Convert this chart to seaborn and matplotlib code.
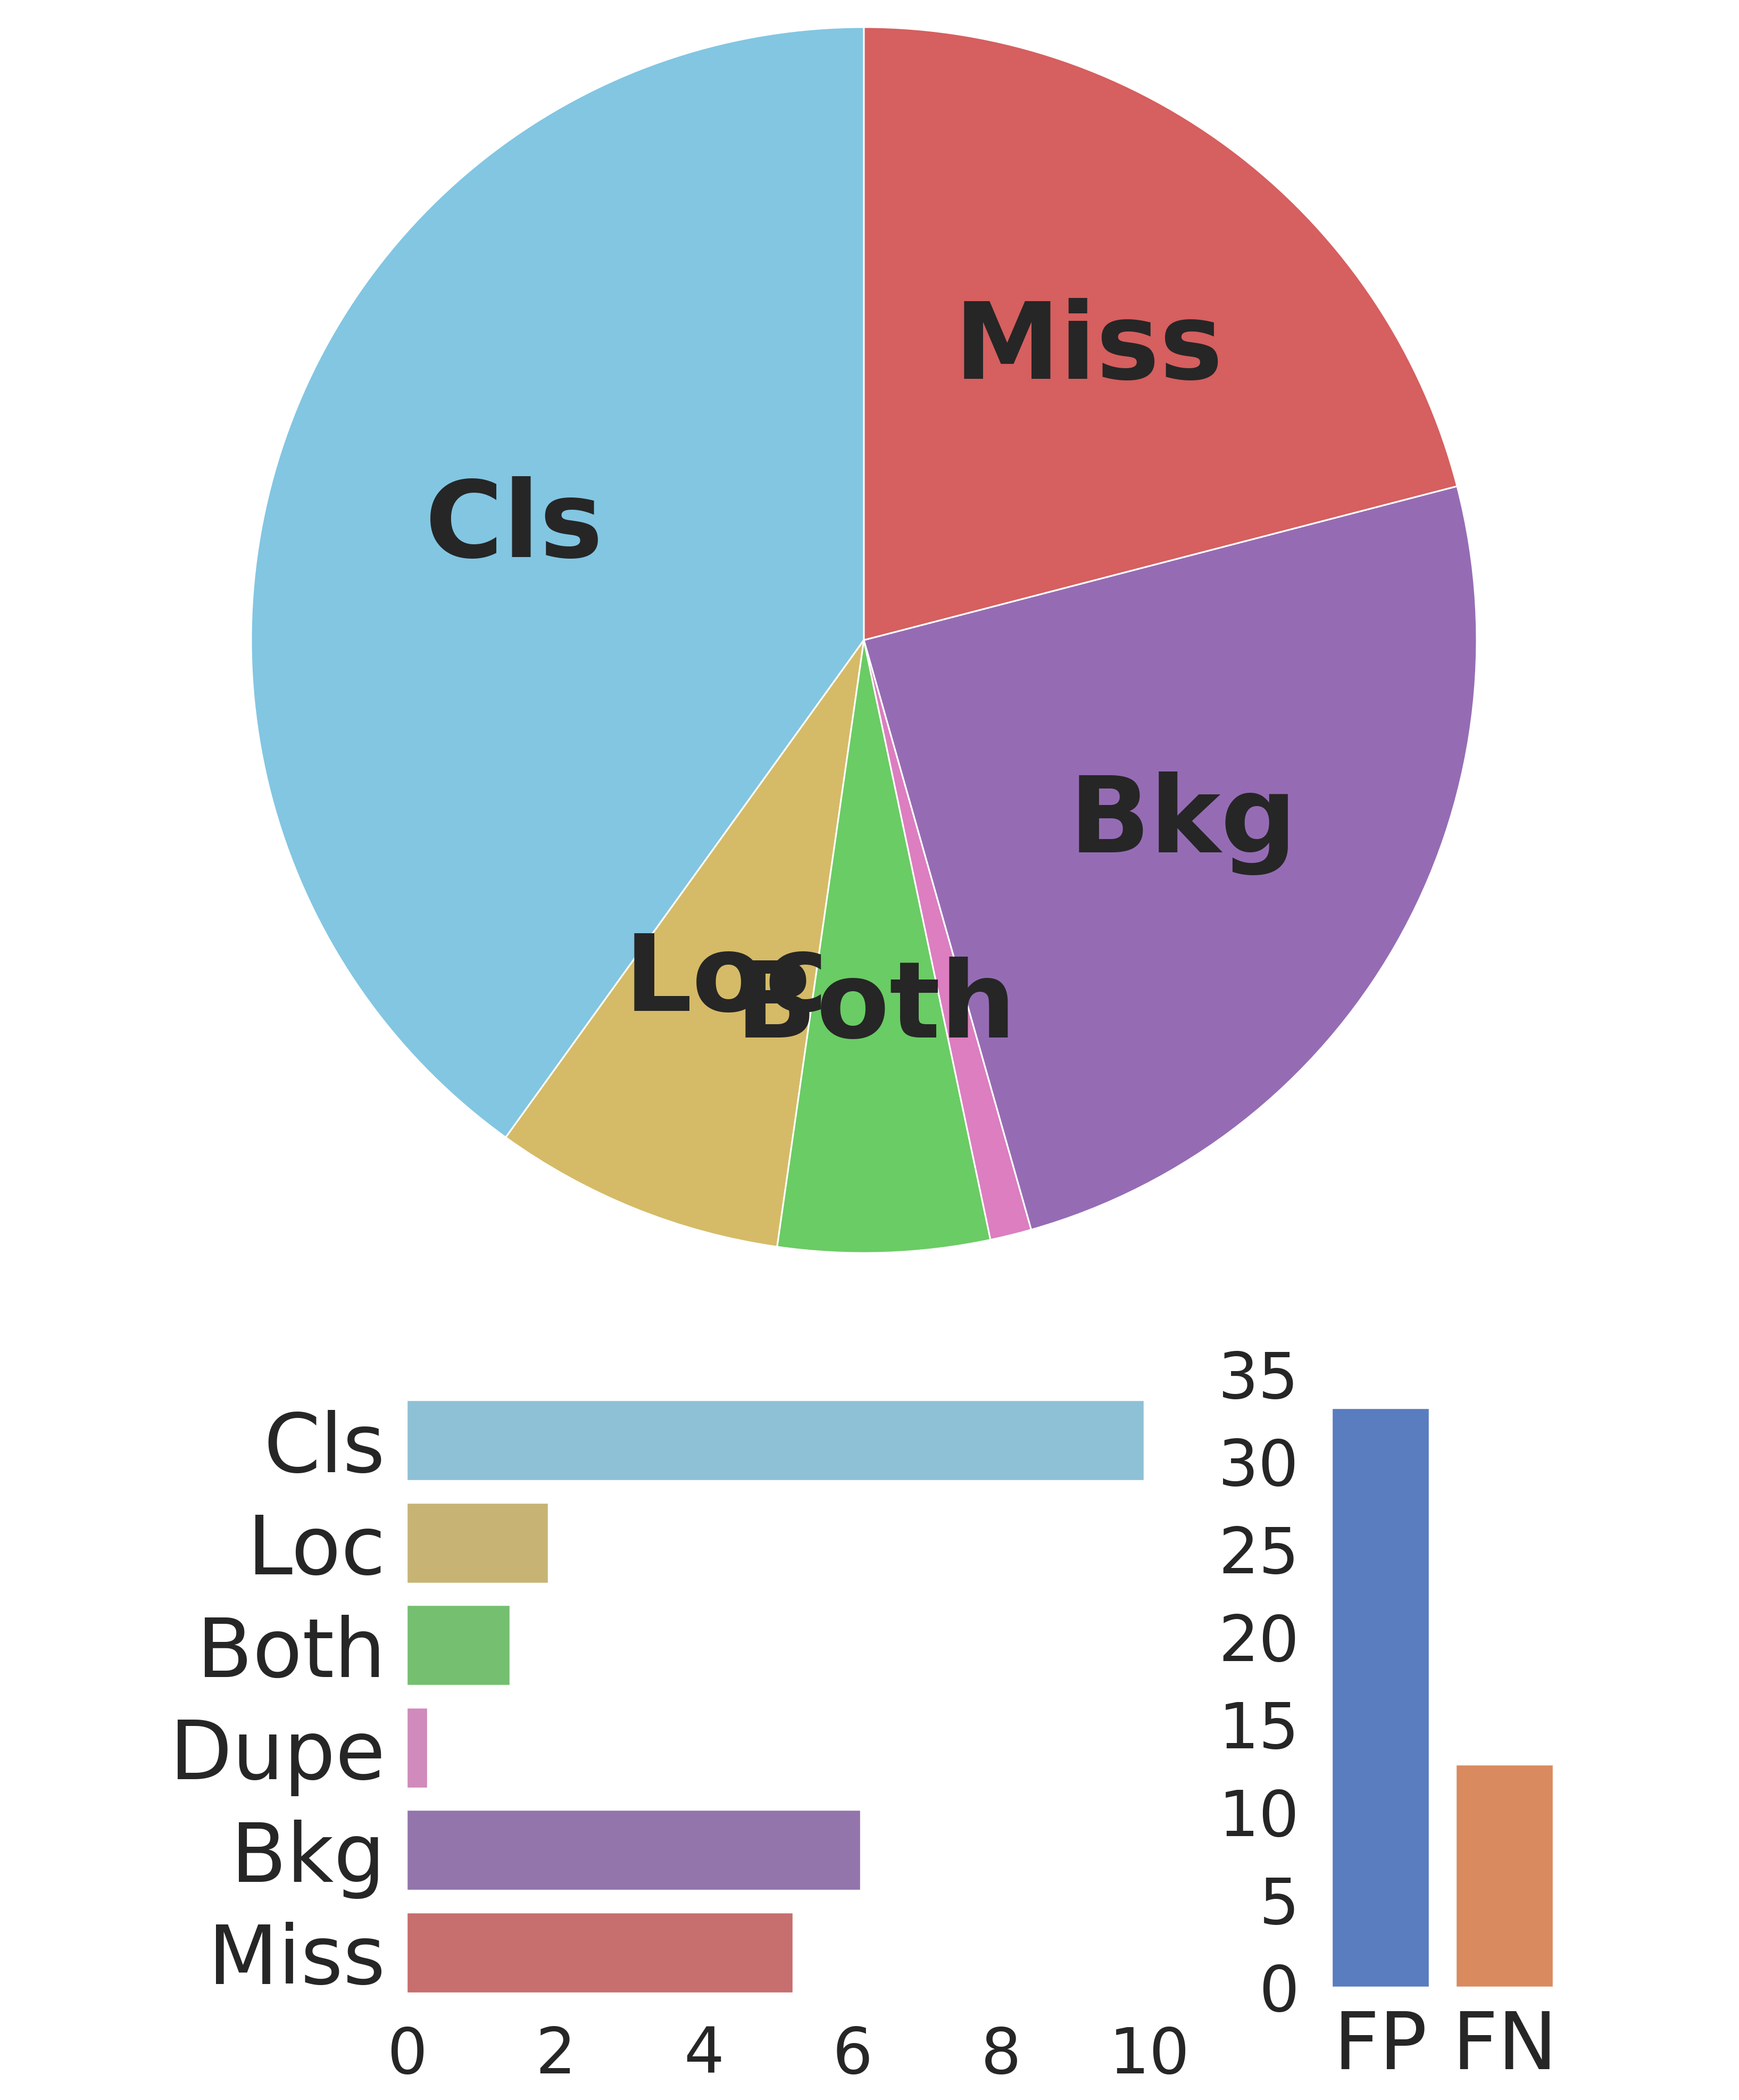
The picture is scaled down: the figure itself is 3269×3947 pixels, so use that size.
import matplotlib
matplotlib.use("Agg")
import matplotlib.pyplot as plt
import seaborn as sns
import pandas as pd

# ---- data ----
error_types = ["Cls", "Loc", "Both", "Dupe", "Bkg", "Miss"]
main_delta = [9.92, 1.90, 1.38, 0.27, 6.10, 5.19]
special_types = ["FP", "FN"]
special_delta = [33.0, 12.65]
main_xticks = [0, 2, 4, 6, 8, 10]
special_yticks = [0, 5, 10, 15, 20, 25, 30, 35]

main_colors = ["#82C6E2", "#D5BB67", "#6ACC64", "#DC7EC0", "#956CB4", "#D65F5F"]
special_colors = ["#4878D0", "#EE854A"]

sns.set_style("white")
plt.rcParams["font.family"] = ["DejaVu Sans"]
TXT = "#262626"

W, H = 3269, 3948
fig = plt.figure(figsize=(W / 100, H / 100), dpi=100)

def pos(left, top, right, bottom):
    return [left / W, (H - bottom) / H, (right - left) / W, (bottom - top) / H]

# ---- pie ----
cx, cy, r = 1624, 1204, 1152
ax_pie = fig.add_axes(pos(cx - r, cy - r, cx + r, cy + r))
wedges, outer, inner = ax_pie.pie(
    main_delta, colors=main_colors, labels=error_types, autopct="%1.1f%%",
    startangle=90, wedgeprops=dict(edgecolor="white", linewidth=2.2))
total = sum(main_delta)
for t in outer:
    t.set_text("")
for i, t in enumerate(inner):
    t.set_text(error_types[i] if main_delta[i] / total > 0.05 else "")
    t.set_fontsize(144)
    t.set_fontweight("bold")
    t.set_color(TXT)
ax_pie.set_xlim(-1, 1)
ax_pie.set_ylim(-1, 1)
ax_pie.set_aspect("equal")
ax_pie.axis("off")

# ---- horizontal bars (main errors) ----
df_main = pd.DataFrame({"Error Type": error_types, "Delta mAP": main_delta})
ax_h = fig.add_axes(pos(765, 2612, 765 + 1396, 3767))
sns.barplot(data=df_main, x="Delta mAP", y="Error Type", hue="Error Type",
            palette=main_colors, legend=False, errorbar=None, width=0.78, ax=ax_h)
ax_h.set_xlim(0, 10)
ax_h.set_xticks(main_xticks)
ax_h.set_xlabel("")
ax_h.set_ylabel("")
ax_h.tick_params(axis="y", labelsize=110, length=0, pad=29, colors=TXT)
ax_h.tick_params(axis="x", labelsize=86, length=0, pad=28, colors=TXT)
for s in ax_h.spines.values():
    s.set_visible(False)

# ---- vertical bars (special errors) ----
df_sp = pd.DataFrame({"Error Type": special_types, "Delta mAP": special_delta})
ax_v = fig.add_axes(pos(2478.5, 2582, 2944.5, 3735))
sns.barplot(data=df_sp, x="Error Type", y="Delta mAP", hue="Error Type",
            palette=special_colors, legend=False, errorbar=None, width=0.78, ax=ax_v)
ax_v.set_ylim(0, 35)
ax_v.set_yticks(special_yticks)
ax_v.set_xlabel("")
ax_v.set_ylabel("")
ax_v.tick_params(axis="x", labelsize=108, length=0, pad=29, colors=TXT)
ax_v.tick_params(axis="y", labelsize=86, length=0, pad=26, colors=TXT)
for s in ax_v.spines.values():
    s.set_visible(False)

fig.savefig("out.png", dpi=100, facecolor="white")
